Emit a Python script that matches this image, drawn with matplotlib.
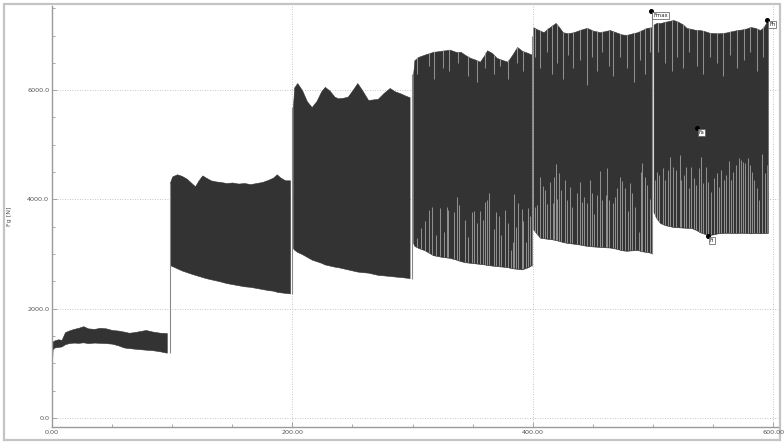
import matplotlib

matplotlib.use("Agg")
import matplotlib.pyplot as plt
from matplotlib.patches import Rectangle
from matplotlib.ticker import MultipleLocator, FormatStrFormatter

# ---- envelopes of each load step (time [s], force [N]) ----
t1 = [0, 0.5, 2, 5, 8, 10.8, 14, 18, 22, 26, 30, 35, 40, 45, 50, 55, 60, 64, 68, 73, 78, 84, 90, 95.5]
up1 = [1150, 1400, 1420, 1440, 1430, 1570, 1600, 1630, 1650, 1680, 1640, 1630, 1650, 1640, 1610, 1600, 1580, 1560, 1570, 1590, 1610, 1580, 1560, 1555]
lo1 = [1000, 1260, 1290, 1300, 1310, 1350, 1370, 1380, 1375, 1385, 1370, 1380, 1375, 1370, 1360, 1330, 1290, 1280, 1270, 1260, 1250, 1240, 1220, 1195]

t2 = [98, 100, 104, 108, 112, 116, 119, 122, 125, 128, 132, 136, 140, 145, 150, 155, 160, 165, 170, 175, 180, 184, 187, 190, 194, 198]
up2 = [4300, 4420, 4460, 4430, 4380, 4300, 4240, 4350, 4440, 4400, 4350, 4330, 4320, 4300, 4310, 4290, 4300, 4280, 4300, 4320, 4360, 4400, 4460, 4400, 4350, 4350]
lo2 = [2800, 2780, 2740, 2700, 2670, 2640, 2620, 2600, 2580, 2560, 2540, 2520, 2500, 2470, 2450, 2430, 2410, 2400, 2380, 2360, 2340, 2330, 2310, 2300, 2290, 2280]

t3 = [200.5, 201.5, 204, 208, 212, 216, 220, 224, 227, 231, 235, 238, 242, 246, 250, 254, 258, 263, 267, 271, 276, 281, 285, 290, 294, 297.5]
up3 = [5700, 6050, 6130, 6000, 5800, 5690, 5800, 5980, 6060, 5990, 5880, 5850, 5860, 5880, 6000, 6130, 6000, 5820, 5830, 5840, 5950, 6040, 5980, 5940, 5900, 5870]
lo3 = [3110, 3080, 3040, 3000, 2950, 2900, 2870, 2840, 2810, 2790, 2770, 2760, 2740, 2720, 2700, 2680, 2670, 2660, 2640, 2620, 2610, 2600, 2590, 2580, 2570, 2560]

t4 = [300.5, 301.5, 305, 310, 317, 324, 331, 336, 340, 344, 348, 352, 356, 360, 362, 366, 370, 375, 379, 383, 387, 391, 396, 399]
up4 = [6300, 6550, 6610, 6650, 6700, 6720, 6740, 6700, 6700, 6640, 6590, 6560, 6520, 6650, 6730, 6680, 6590, 6550, 6520, 6650, 6790, 6720, 6680, 6650]
lo4 = [3200, 3150, 3110, 3070, 2980, 2950, 2930, 2900, 2870, 2850, 2840, 2830, 2820, 2810, 2800, 2790, 2780, 2770, 2760, 2740, 2730, 2720, 2760, 2800]

t5 = [400.5, 403, 406, 409, 412, 416, 419, 422, 425, 429, 434, 439, 445, 450, 456, 460, 464, 469, 474, 478, 483, 487, 491, 495, 498.8]
up5 = [7150, 7120, 7090, 7060, 7120, 7180, 7230, 7150, 7060, 7040, 7060, 7100, 7140, 7090, 7060, 7080, 7100, 7060, 7020, 7010, 7040, 7060, 7100, 7140, 7150]
lo5 = [3450, 3380, 3300, 3290, 3280, 3270, 3257, 3240, 3220, 3203, 3190, 3175, 3150, 3140, 3130, 3125, 3120, 3100, 3070, 3060, 3070, 3074, 3050, 3038, 3020]

t6 = [500.5, 503, 506, 510, 514, 517, 521, 525, 528, 532, 536, 539, 543, 547, 550, 554, 558, 562, 566, 570, 574, 578, 581, 585, 589, 592, 595.5]
up6 = [7200, 7230, 7228, 7250, 7270, 7283, 7250, 7200, 7137, 7120, 7100, 7100, 7080, 7050, 7045, 7040, 7045, 7060, 7080, 7100, 7110, 7130, 7155, 7140, 7100, 7150, 7283]
lo6 = [3770, 3650, 3568, 3530, 3510, 3495, 3490, 3485, 3480, 3477, 3440, 3400, 3370, 3349, 3360, 3380, 3385, 3390, 3385, 3385, 3390, 3385, 3380, 3385, 3380, 3385, 3385]

# ---- single cycles visible at the lower edge (time, peak of the light stroke) ----
ls4_t = [303.5, 307.3, 310.7, 313.7, 316.5, 319.8, 322.6, 326.2, 328.4, 329.8, 334.8, 337.3, 338.9, 343.9,
         346.2, 349.2, 351.4, 353.9, 356.4, 358.4, 360.3, 362.0, 363.4, 367.8, 369.2, 371.7, 373.6, 377.2,
         379.7, 381.7, 383.6, 384.7, 386.4, 388.0, 390.9, 392.2, 394.2, 395.9, 398.0]
ls4_hi = [3288, 3471, 3605, 3806, 3867, 3349, 3837, 3410, 3867, 3806, 3764, 4038, 3898, 3623,
          3306, 3770, 3788, 3569, 3788, 3623, 3959, 3989, 4123, 3459, 3764, 3691, 3349, 3806,
          3569, 3074, 3226, 4093, 3501, 3941, 3825, 3611, 3226, 3837, 3697]

ls5_t = [401.6, 403.6, 406.4, 408.3, 410.5, 412.2, 414.7, 416.6, 418.0, 419.1, 420.5, 422.2, 423.8, 426.6,
         428.8, 431.3, 433.0, 436.6, 439.6, 441.3, 442.7, 445.5, 447.7, 449.4, 451.0, 453.5, 455.5, 457.7,
         460.8, 462.1, 463.8, 466.6, 468.2, 470.4, 472.7, 473.8, 476.6, 478.8, 481.0, 482.6, 485.1, 488.2,
         489.9, 491.2, 493.2, 494.9, 497.6]
ls5_hi = [3867, 3898, 4416, 4246, 4172, 3916, 4325, 3940, 4416, 4648, 4008, 4489, 4172, 4355,
          3989, 4233, 3856, 4111, 4325, 3959, 4050, 3940, 4355, 4111, 3733, 4081, 4526, 3989,
          4081, 4569, 3989, 3929, 4050, 4203, 4416, 4343, 4203, 3794, 4295, 4111, 3867, 3409,
          4508, 4661, 4404, 4264, 4002]

ls6_t = [501.5, 503.2, 505.4, 508.2, 510.4, 512.6, 514.3, 516.5, 519.3, 522.1, 523.7, 525.4, 527.6, 529.9,
         531.5, 533.7, 536.0, 538.2, 539.8, 542.0, 543.7, 545.9, 548.1, 550.4, 553.1, 554.8, 556.5, 558.7,
         560.9, 562.9, 564.9, 566.5, 569.3, 571.5, 573.2, 574.8, 576.5, 578.7, 580.4, 582.3, 584.2, 586.5,
         588.1, 590.9, 593.1, 595.0]
ls6_hi = [4355, 4508, 4447, 4569, 4355, 4538, 4782, 4599, 4538, 4813, 4355, 4447, 4599, 4203,
          4599, 4386, 4264, 4569, 4771, 4295, 4599, 4325, 4142, 4386, 4489, 4221, 4538, 4355,
          4447, 4709, 4355, 4508, 4630, 4752, 4721, 4691, 4661, 4752, 4630, 4508, 4355, 4203,
          3989, 4831, 4478, 4630]

# ---- single cycles visible at the upper edge (time, valley of the light stroke) ----
us4_t = [303.5, 314.0, 318.1, 325.1, 330.6, 338.1, 346.4, 353.4, 360.3, 368.1, 372.8, 379.7, 386.7, 392.2]
us4_lo = [6300, 6450, 6200, 6400, 6350, 6500, 6250, 6150, 6400, 6300, 6450, 6200, 6500, 6350]

us5_t = [401.9, 406.1, 411.6, 415.8, 420.0, 425.5, 429.7, 433.8, 439.4, 444.9, 449.1, 453.3, 457.4,
         463.0, 467.1, 472.7, 478.2, 483.8, 489.3, 493.5, 497.6]
us5_lo = [6600, 6400, 6700, 6300, 6500, 6200, 6650, 6400, 6550, 6100, 6600, 6350, 6700,
          6450, 6250, 6600, 6400, 6150, 6550, 6300, 6700]

us6_t = [504.5, 510.1, 515.6, 520.3, 525.3, 530.3, 536.4, 542.0, 547.6, 553.6, 558.6, 564.2, 569.7,
         575.3, 580.8, 586.4, 591.9, 596.1]
us6_lo = [6700, 6500, 6350, 6600, 6400, 6700, 6450, 6300, 6600, 6500, 6250, 6650, 6400,
          6550, 6700, 6350, 6600, 6500]

# ---- step changes between load levels ----
step_t = [98.0, 199.5, 299.5, 399.5, 499.5]
step_lo = [1190, 2270, 2550, 2780, 3000]
step_hi = [4300, 5700, 6300, 7000, 7448]

# ---- markers ----
mark_name = ["Fmax", "Fh", "Fa", "Fi"]
mark_t = [498.5, 595.0, 536.5, 545.6]
mark_f = [7448, 7283, 5313, 3336]

DARK = "#333333"
LIGHT = "#8f8f8f"
AXC = "#9a9a9a"

plt.rcParams["font.family"] = ["DejaVu Sans"]

fig = plt.figure(figsize=(7.84, 4.43), dpi=100)
# outer gray frame, drawn below the axes so tick labels stay on top
fig.patches.append(Rectangle((4 / 784, 3 / 443), 776 / 784, 436 / 443, transform=fig.transFigure,
                             fill=False, ec="#c4c4c4", lw=1.6, zorder=-1))
ax = fig.add_axes([52 / 784, 16 / 443, 726 / 784, 421 / 443])
ax.patch.set_alpha(0)

segments = [(t1, lo1, up1), (t2, lo2, up2), (t3, lo3, up3), (t4, lo4, up4), (t5, lo5, up5), (t6, lo6, up6)]
polys = []
for t, lo, up in segments:
    p = ax.fill_between(t, lo, up, color=DARK, lw=0.4, ec=DARK, zorder=2)
    polys.append(p)

# light strokes of single cycles, clipped to the band of their load step
for poly, (ts, hi) in zip(polys[3:], [(ls4_t, ls4_hi), (ls5_t, ls5_hi), (ls6_t, ls6_hi)]):
    vl = ax.vlines(ts, 0, hi, color=LIGHT, lw=0.75, zorder=3)
    vl.set_clip_path(poly.get_paths()[0], ax.transData)
for poly, (ts, lo) in zip(polys[3:], [(us4_t, us4_lo), (us5_t, us5_lo), (us6_t, us6_lo)]):
    vl = ax.vlines(ts, lo, 8000, color=LIGHT, lw=0.75, zorder=3)
    vl.set_clip_path(poly.get_paths()[0], ax.transData)

ax.vlines(step_t, step_lo, step_hi, color="#8a8a8a", lw=0.8, zorder=4)

for name, t, f in zip(mark_name, mark_t, mark_f):
    ax.plot(t, f, "o", color="black", ms=2.6, zorder=6)
    ax.annotate(name, (t, f), xytext=(1.5, -1.5), textcoords="offset points", ha="left", va="top",
                fontsize=3.8, color="#222222", zorder=7,
                bbox=dict(boxstyle="square,pad=0.15", fc="white", ec="#555555", lw=0.5))

ax.set_xlim(0, 604)
ax.set_ylim(-165, 7540)
ax.xaxis.set_major_locator(MultipleLocator(200))
ax.xaxis.set_minor_locator(MultipleLocator(50))
ax.yaxis.set_major_locator(MultipleLocator(2000))
ax.yaxis.set_minor_locator(MultipleLocator(500))
ax.xaxis.set_major_formatter(FormatStrFormatter("%.2f"))
ax.yaxis.set_major_formatter(FormatStrFormatter("%.1f"))

ax.grid(which="major", color="#b4b4b4", lw=0.6, linestyle=(0, (1, 2)), zorder=1)
ax.tick_params(which="both", direction="in", color=AXC, width=0.6, labelsize=4.6, labelcolor="#555555")
ax.tick_params(which="major", length=3.5, pad=2)
ax.tick_params(which="minor", length=2.5)
for side in ["top", "right"]:
    ax.spines[side].set_visible(False)
for side in ["left", "bottom"]:
    ax.spines[side].set_color(AXC)
    ax.spines[side].set_linewidth(1.0)

fig.canvas.draw()
ax.get_xticklabels()[0].set_ha("left")

fig.text(10 / 784, 1 - 216 / 443, "Fg [N]", rotation=90, ha="center", va="center",
         fontsize=4.6, color="#555555")

fig.savefig("out.png", dpi=100)
